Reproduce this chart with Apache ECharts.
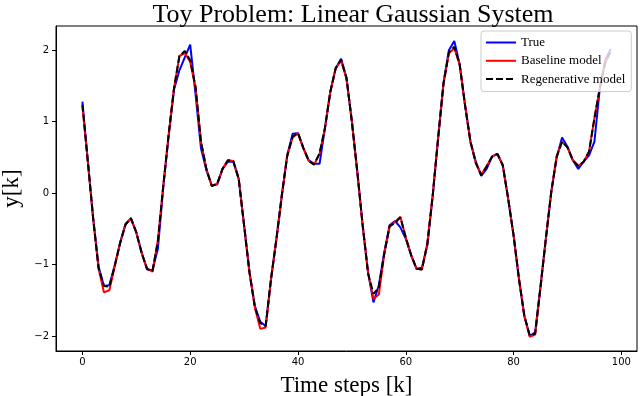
<!DOCTYPE html>
<html>
<head>
<meta charset="utf-8">
<script src="https://cdn.jsdelivr.net/npm/echarts@6/dist/echarts.min.js"></script>
<style>
  html, body { margin: 0; padding: 0; background: #fff; }
  #chart { width: 640px; height: 396px; }
</style>
</head>
<body>
<div id="chart"></div>
<script>
// values, one per time step k = 0..98
let trueY = [
  1.28, 0.45, -0.35, -1.03, -1.30, -1.29, -1.01, -0.69, -0.43, -0.36,
  -0.55, -0.83, -1.07, -1.08, -0.78, 0.08, 0.80, 1.45, 1.72, 1.90,
  2.08, 1.38, 0.63, 0.32, 0.11, 0.12, 0.34, 0.44, 0.44, 0.20,
  -0.45, -1.11, -1.58, -1.80, -1.86, -1.20, -0.64, -0.03, 0.53, 0.83,
  0.84, 0.63, 0.46, 0.41, 0.41, 0.91, 1.42, 1.75, 1.88, 1.61,
  1.00, 0.30, -0.45, -1.11, -1.53, -1.29, -0.83, -0.45, -0.39, -0.48,
  -0.64, -0.87, -1.06, -1.04, -0.73, -0.03, 0.77, 1.55, 2.00, 2.13,
  1.80, 1.23, 0.72, 0.44, 0.24, 0.34, 0.51, 0.55, 0.39, -0.08,
  -0.59, -1.20, -1.72, -2.00, -1.95, -1.30, -0.63, 0.02, 0.50, 0.78,
  0.65, 0.46, 0.34, 0.44, 0.53, 0.72, 1.47, 1.86, 2.02
];
let baseY = [
  1.23, 0.45, -0.36, -1.06, -1.39, -1.36, -1.02, -0.70, -0.44, -0.35,
  -0.55, -0.84, -1.06, -1.10, -0.66, 0.10, 0.82, 1.47, 1.92, 1.96,
  1.84, 1.47, 0.72, 0.34, 0.10, 0.13, 0.34, 0.46, 0.45, 0.20,
  -0.45, -1.11, -1.60, -1.90, -1.88, -1.20, -0.64, -0.03, 0.52, 0.78,
  0.84, 0.63, 0.45, 0.40, 0.55, 0.91, 1.42, 1.75, 1.85, 1.61,
  1.00, 0.30, -0.45, -1.12, -1.48, -1.42, -0.86, -0.47, -0.40, -0.33,
  -0.62, -0.87, -1.06, -1.07, -0.70, -0.03, 0.77, 1.53, 1.96, 2.03,
  1.80, 1.23, 0.72, 0.42, 0.26, 0.38, 0.51, 0.55, 0.39, -0.08,
  -0.59, -1.20, -1.72, -2.01, -1.98, -1.32, -0.63, 0.02, 0.52, 0.72,
  0.64, 0.46, 0.38, 0.44, 0.58, 1.05, 1.47, 1.82, 1.98
];
let regenY = [
  1.24, 0.45, -0.36, -1.05, -1.30, -1.31, -1.02, -0.70, -0.44, -0.35,
  -0.55, -0.84, -1.06, -1.09, -0.68, 0.10, 0.82, 1.47, 1.92, 1.99,
  1.86, 1.49, 0.72, 0.34, 0.10, 0.13, 0.34, 0.46, 0.45, 0.20,
  -0.45, -1.11, -1.60, -1.82, -1.86, -1.20, -0.64, -0.03, 0.52, 0.79,
  0.84, 0.63, 0.45, 0.40, 0.56, 0.91, 1.42, 1.75, 1.87, 1.61,
  1.00, 0.30, -0.45, -1.12, -1.41, -1.32, -0.85, -0.46, -0.42, -0.34,
  -0.62, -0.87, -1.06, -1.07, -0.71, -0.03, 0.77, 1.53, 1.97, 2.05,
  1.80, 1.23, 0.72, 0.42, 0.25, 0.37, 0.51, 0.55, 0.39, -0.08,
  -0.59, -1.20, -1.72, -1.99, -1.97, -1.31, -0.63, 0.02, 0.51, 0.72,
  0.64, 0.46, 0.38, 0.44, 0.58, 1.05, 1.47, 1.83, 1.98
];
let xTicks = [0, 20, 40, 60, 80, 100];
let yTicks = [-2, -1, 0, 1, 2];
let seriesNames = ['True', 'Baseline model', 'Regenerative model'];

let chart = echarts.init(document.getElementById('chart'));

function pairs(ys) {
  return ys.map(function (y, k) { return [k, y]; });
}

let serif = '"Liberation Serif", "DejaVu Serif", serif';
let sans = '"DejaVu Sans", sans-serif';

let option = {
  animation: false,
  backgroundColor: '#fff',
  title: {
    text: 'Toy Problem: Linear Gaussian System',
    left: 348,
    textAlign: 'center',
    top: -3,
    textStyle: { fontFamily: serif, fontSize: 26, fontWeight: 'normal', color: '#000' }
  },
  legend: {
    orient: 'vertical',
    left: 481,
    top: 31,
    padding: [5, 6, 6, 4],
    itemWidth: 30,
    itemHeight: 14,
    itemGap: 5.3,
    backgroundColor: 'rgba(255,255,255,0.8)',
    borderColor: '#ccc',
    borderWidth: 1,
    borderRadius: 3,
    itemStyle: { opacity: 0 },
    textStyle: { fontFamily: serif, fontSize: 13, color: '#000' },
    data: seriesNames
  },
  grid: {
    left: 56, right: 3, top: 26, bottom: 45,
    show: true, borderColor: '#000', borderWidth: 1,
    containLabel: false,
    outerBoundsMode: 'none'
  },
  xAxis: {
    type: 'value',
    min: -4.9,
    max: 102.9,
    name: 'Time steps [k]',
    nameLocation: 'middle',
    nameGap: 23,
    nameTextStyle: { fontFamily: serif, fontSize: 23, color: '#000' },
    axisLine: { onZero: false, lineStyle: { color: '#000', width: 1 } },
    axisTick: { show: true, inside: false, length: 4, customValues: xTicks, lineStyle: { color: '#000' } },
    axisLabel: { customValues: xTicks, fontFamily: sans, fontSize: 10, color: '#000', margin: 6 },
    splitLine: { show: false }
  },
  yAxis: {
    type: 'value',
    min: -2.21,
    max: 2.34,
    name: 'y[k]',
    nameLocation: 'middle',
    nameGap: 31,
    nameTextStyle: { fontFamily: serif, fontSize: 23, color: '#000' },
    axisLine: { show: true, onZero: false, lineStyle: { color: '#000', width: 1 } },
    axisTick: { show: true, inside: false, length: 4, customValues: yTicks, lineStyle: { color: '#000' } },
    axisLabel: {
      customValues: yTicks, fontFamily: sans, fontSize: 10, color: '#000', margin: 7,
      formatter: function (v) { return v < 0 ? '\u2212' + Math.abs(v) : String(v); }
    },
    splitLine: { show: false }
  },
  series: [
    {
      name: seriesNames[0], type: 'line', data: pairs(trueY),
      symbol: 'none', color: '#0000ff',
      lineStyle: { color: '#0000ff', width: 2 }
    },
    {
      name: seriesNames[1], type: 'line', data: pairs(baseY),
      symbol: 'none', color: '#ff0000',
      lineStyle: { color: '#ff0000', width: 2 }
    },
    {
      name: seriesNames[2], type: 'line', data: pairs(regenY),
      symbol: 'none', color: '#000',
      lineStyle: { color: '#000', width: 2, type: [7, 3] }
    }
  ]
};

chart.setOption(option);
</script>
</body>
</html>
